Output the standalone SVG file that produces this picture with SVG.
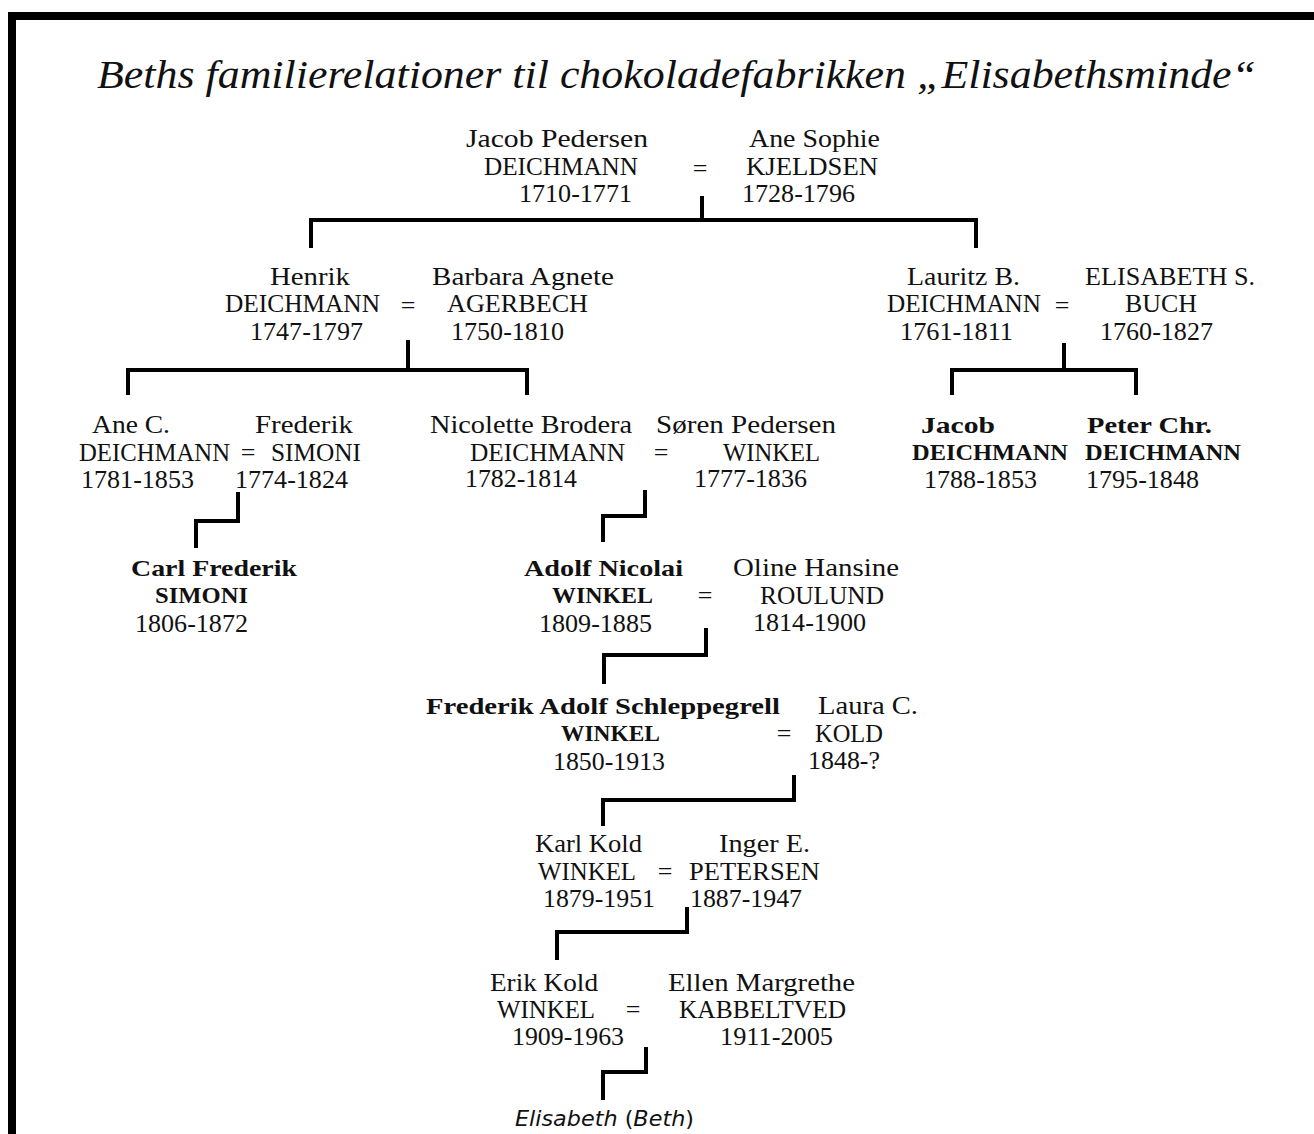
<svg xmlns="http://www.w3.org/2000/svg" width="1314" height="1134" viewBox="0 0 1314 1134">
<style>
text{font-family:"Liberation Serif","Times New Roman",serif;font-size:26px;fill:#111}
.b{font-weight:bold;font-size:24px}
.eq{text-anchor:middle}
.title{font-style:italic;font-size:40px}
.beth{font-family:"DejaVu Sans","Verdana",sans-serif;font-size:22px}
.c{fill:none;stroke:#000;stroke-width:4;stroke-linejoin:miter;stroke-linecap:butt}
</style>
<rect x="8" y="12" width="1306" height="8" fill="#000"/>
<rect x="8" y="12" width="8" height="1122" fill="#000"/>
<text class="title" x="97" y="88" textLength="1159" lengthAdjust="spacingAndGlyphs">Beths familierelationer til chokoladefabrikken „Elisabethsminde“</text>

<g id="connectors">
<path class="c" d="M702,196 V220"/>
<path class="c" d="M311,248 V220 H976 V248"/>
<path class="c" d="M408,340 V370"/>
<path class="c" d="M128,395 V370 H527 V395"/>
<path class="c" d="M1064,343 V370"/>
<path class="c" d="M952,395 V370 H1136 V395"/>
<path class="c" d="M238,492 V521 H196 V548"/>
<path class="c" d="M645,490 V516 H603 V542"/>
<path class="c" d="M706,628 V655 H604 V684"/>
<path class="c" d="M794,775 V800 H603 V826"/>
<path class="c" d="M687,907 V932 H557 V960"/>
<path class="c" d="M646,1047 V1072 H603 V1100"/>
</g>

<g id="jacob-pedersen-deichmann">
<text x="466" y="147" textLength="182" lengthAdjust="spacingAndGlyphs">Jacob Pedersen</text>
<text x="484" y="175" textLength="154" lengthAdjust="spacingAndGlyphs">DEICHMANN</text>
<text x="519" y="202" textLength="113" lengthAdjust="spacingAndGlyphs">1710-1771</text>
</g>
<g id="m-jacob-ane"><text class="eq" x="700" y="177">=</text></g>
<g id="ane-sophie-kjeldsen">
<text x="749" y="147" textLength="131" lengthAdjust="spacingAndGlyphs">Ane Sophie</text>
<text x="746" y="175" textLength="132" lengthAdjust="spacingAndGlyphs">KJELDSEN</text>
<text x="742" y="202" textLength="113" lengthAdjust="spacingAndGlyphs">1728-1796</text>
</g>

<g id="henrik-deichmann">
<text x="270" y="285" textLength="80" lengthAdjust="spacingAndGlyphs">Henrik</text>
<text x="225" y="312" textLength="155" lengthAdjust="spacingAndGlyphs">DEICHMANN</text>
<text x="250" y="340" textLength="113" lengthAdjust="spacingAndGlyphs">1747-1797</text>
</g>
<g id="m-henrik-barbara"><text class="eq" x="408" y="314">=</text></g>
<g id="barbara-agnete-agerbech">
<text x="432" y="285" textLength="182" lengthAdjust="spacingAndGlyphs">Barbara Agnete</text>
<text x="447" y="312" textLength="141" lengthAdjust="spacingAndGlyphs">AGERBECH</text>
<text x="451" y="340" textLength="113" lengthAdjust="spacingAndGlyphs">1750-1810</text>
</g>

<g id="lauritz-deichmann">
<text x="907" y="285" textLength="113" lengthAdjust="spacingAndGlyphs">Lauritz B.</text>
<text x="887" y="312" textLength="154" lengthAdjust="spacingAndGlyphs">DEICHMANN</text>
<text x="900" y="340" textLength="113" lengthAdjust="spacingAndGlyphs">1761-1811</text>
</g>
<g id="m-lauritz-elisabeth"><text class="eq" x="1062" y="314">=</text></g>
<g id="elisabeth-buch">
<text x="1085" y="285" textLength="170" lengthAdjust="spacingAndGlyphs">ELISABETH S.</text>
<text x="1125" y="312" textLength="72" lengthAdjust="spacingAndGlyphs">BUCH</text>
<text x="1100" y="340" textLength="113" lengthAdjust="spacingAndGlyphs">1760-1827</text>
</g>

<g id="ane-c-deichmann">
<text x="92" y="433" textLength="78" lengthAdjust="spacingAndGlyphs">Ane C.</text>
<text x="79" y="461" textLength="151" lengthAdjust="spacingAndGlyphs">DEICHMANN</text>
<text x="81" y="488" textLength="113" lengthAdjust="spacingAndGlyphs">1781-1853</text>
</g>
<g id="m-ane-frederik"><text class="eq" x="248" y="461">=</text></g>
<g id="frederik-simoni">
<text x="255" y="433" textLength="98" lengthAdjust="spacingAndGlyphs">Frederik</text>
<text x="271" y="461" textLength="90" lengthAdjust="spacingAndGlyphs">SIMONI</text>
<text x="235" y="488" textLength="113" lengthAdjust="spacingAndGlyphs">1774-1824</text>
</g>

<g id="nicolette-deichmann">
<text x="430" y="433" textLength="202" lengthAdjust="spacingAndGlyphs">Nicolette Brodera</text>
<text x="470" y="461" textLength="155" lengthAdjust="spacingAndGlyphs">DEICHMANN</text>
<text x="465" y="487" textLength="112" lengthAdjust="spacingAndGlyphs">1782-1814</text>
</g>
<g id="m-nicolette-soren"><text class="eq" x="661" y="461">=</text></g>
<g id="soren-winkel">
<text x="656" y="433" textLength="180" lengthAdjust="spacingAndGlyphs">Søren Pedersen</text>
<text x="723" y="461" textLength="97" lengthAdjust="spacingAndGlyphs">WINKEL</text>
<text x="694" y="487" textLength="113" lengthAdjust="spacingAndGlyphs">1777-1836</text>
</g>

<g id="jacob-deichmann">
<text class="b" x="921" y="433" textLength="74" lengthAdjust="spacingAndGlyphs">Jacob</text>
<text class="b" x="912" y="460" textLength="156" lengthAdjust="spacingAndGlyphs">DEICHMANN</text>
<text x="924" y="488" textLength="113" lengthAdjust="spacingAndGlyphs">1788-1853</text>
</g>
<g id="peter-deichmann">
<text class="b" x="1087" y="433" textLength="125" lengthAdjust="spacingAndGlyphs">Peter Chr.</text>
<text class="b" x="1085" y="460" textLength="156" lengthAdjust="spacingAndGlyphs">DEICHMANN</text>
<text x="1086" y="488" textLength="113" lengthAdjust="spacingAndGlyphs">1795-1848</text>
</g>

<g id="carl-simoni">
<text class="b" x="131" y="576" textLength="166" lengthAdjust="spacingAndGlyphs">Carl Frederik</text>
<text class="b" x="155" y="603" textLength="93" lengthAdjust="spacingAndGlyphs">SIMONI</text>
<text x="135" y="632" textLength="113" lengthAdjust="spacingAndGlyphs">1806-1872</text>
</g>

<g id="adolf-winkel">
<text class="b" x="524" y="576" textLength="159" lengthAdjust="spacingAndGlyphs">Adolf Nicolai</text>
<text class="b" x="552" y="603" textLength="101" lengthAdjust="spacingAndGlyphs">WINKEL</text>
<text x="539" y="632" textLength="113" lengthAdjust="spacingAndGlyphs">1809-1885</text>
</g>
<g id="m-adolf-oline"><text class="eq" x="705" y="604">=</text></g>
<g id="oline-roulund">
<text x="733" y="576" textLength="166" lengthAdjust="spacingAndGlyphs">Oline Hansine</text>
<text x="760" y="604" textLength="124" lengthAdjust="spacingAndGlyphs">ROULUND</text>
<text x="753" y="631" textLength="113" lengthAdjust="spacingAndGlyphs">1814-1900</text>
</g>

<g id="frederik-winkel">
<text class="b" x="426" y="714" textLength="354" lengthAdjust="spacingAndGlyphs">Frederik Adolf Schleppegrell</text>
<text class="b" x="561" y="741" textLength="99" lengthAdjust="spacingAndGlyphs">WINKEL</text>
<text x="553" y="770" textLength="112" lengthAdjust="spacingAndGlyphs">1850-1913</text>
</g>
<g id="m-frederik-laura"><text class="eq" x="784" y="742">=</text></g>
<g id="laura-kold">
<text x="818" y="714" textLength="100" lengthAdjust="spacingAndGlyphs">Laura C.</text>
<text x="815" y="742" textLength="68" lengthAdjust="spacingAndGlyphs">KOLD</text>
<text x="808" y="769" textLength="72" lengthAdjust="spacingAndGlyphs">1848-?</text>
</g>

<g id="karl-winkel">
<text x="535" y="852" textLength="107" lengthAdjust="spacingAndGlyphs">Karl Kold</text>
<text x="538" y="880" textLength="98" lengthAdjust="spacingAndGlyphs">WINKEL</text>
<text x="543" y="907" textLength="112" lengthAdjust="spacingAndGlyphs">1879-1951</text>
</g>
<g id="m-karl-inger"><text class="eq" x="665" y="880">=</text></g>
<g id="inger-petersen">
<text x="719" y="852" textLength="91" lengthAdjust="spacingAndGlyphs">Inger E.</text>
<text x="689" y="880" textLength="131" lengthAdjust="spacingAndGlyphs">PETERSEN</text>
<text x="690" y="907" textLength="112" lengthAdjust="spacingAndGlyphs">1887-1947</text>
</g>

<g id="erik-winkel">
<text x="490" y="991" textLength="108" lengthAdjust="spacingAndGlyphs">Erik Kold</text>
<text x="497" y="1018" textLength="98" lengthAdjust="spacingAndGlyphs">WINKEL</text>
<text x="512" y="1045" textLength="112" lengthAdjust="spacingAndGlyphs">1909-1963</text>
</g>
<g id="m-erik-ellen"><text class="eq" x="633" y="1018">=</text></g>
<g id="ellen-kabbeltved">
<text x="668" y="991" textLength="187" lengthAdjust="spacingAndGlyphs">Ellen Margrethe</text>
<text x="679" y="1018" textLength="167" lengthAdjust="spacingAndGlyphs">KABBELTVED</text>
<text x="720" y="1045" textLength="113" lengthAdjust="spacingAndGlyphs">1911-2005</text>
</g>

<g id="elisabeth-beth">
<text class="beth" x="515" y="1126" textLength="179" lengthAdjust="spacingAndGlyphs"><tspan font-style="italic">Elisabeth</tspan> (<tspan font-style="italic">Beth</tspan>)</text>
</g>
</svg>
